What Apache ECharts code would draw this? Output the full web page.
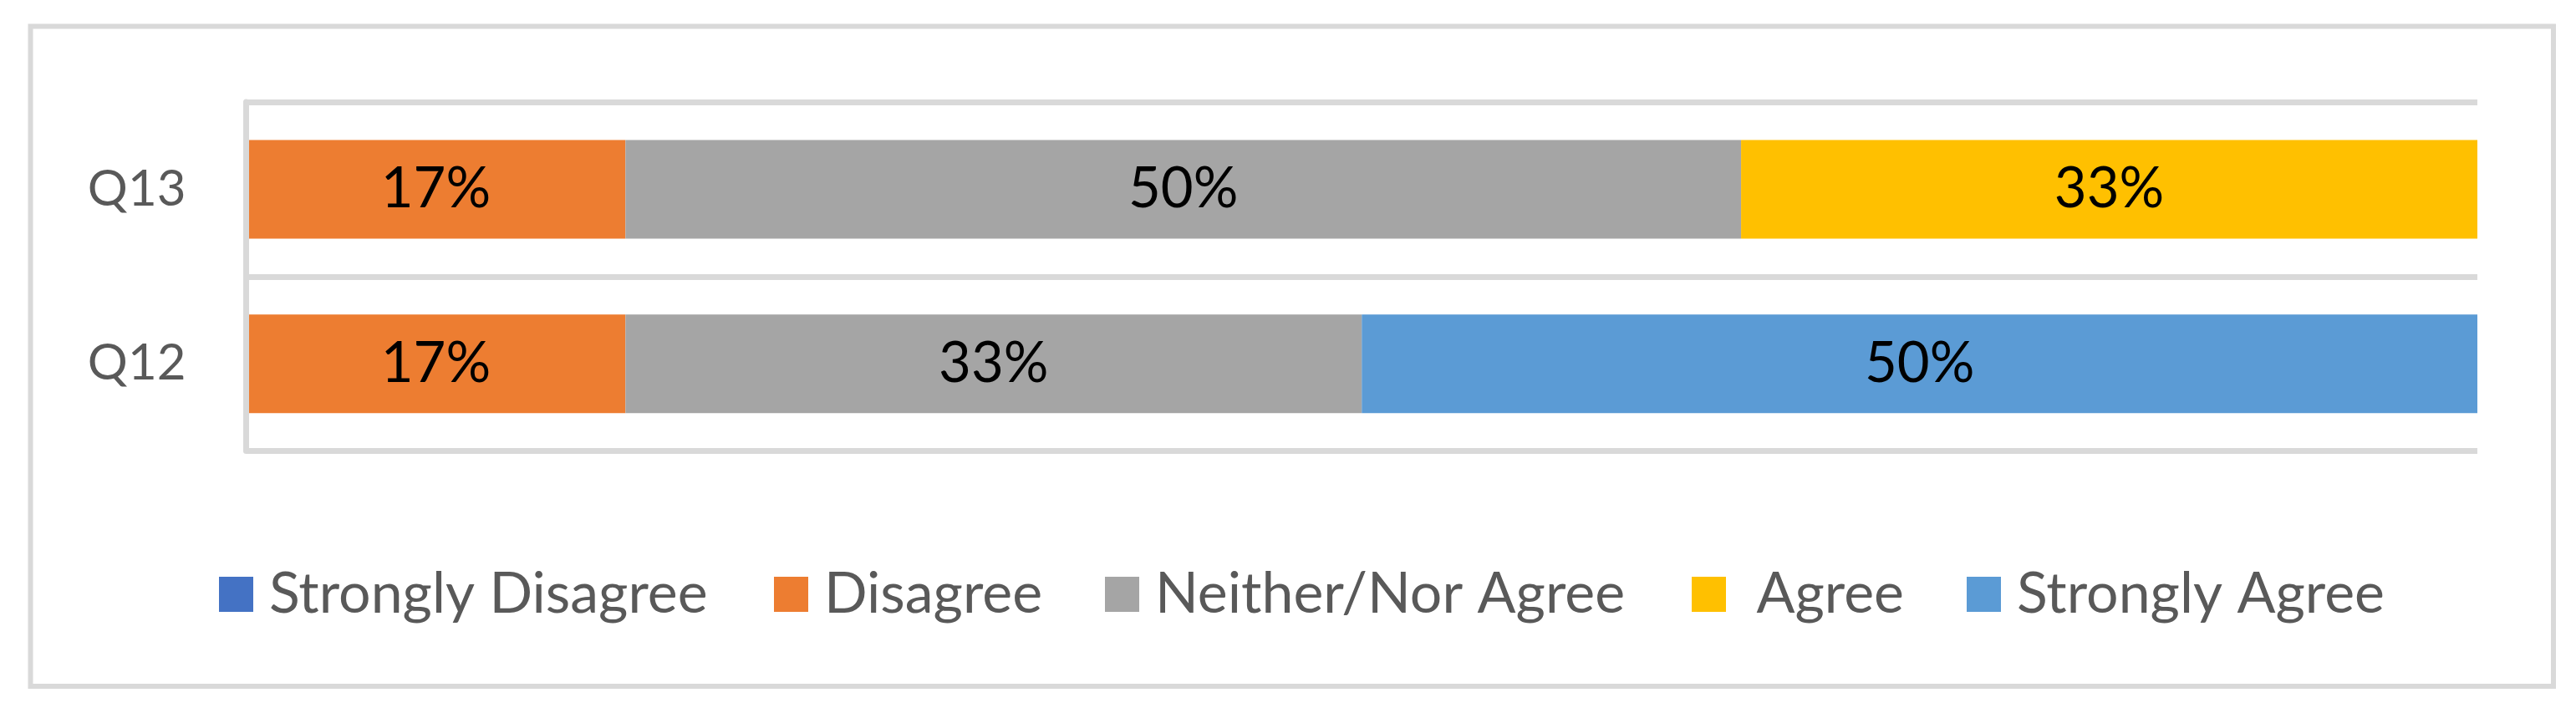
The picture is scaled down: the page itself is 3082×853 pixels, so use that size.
<!DOCTYPE html>
<html>
<head>
<meta charset="utf-8">
<script src="https://cdn.jsdelivr.net/npm/echarts@6/dist/echarts.min.js"></script>
<style>
html,body{margin:0;padding:0;background:#fff;}
#chart{width:3082px;height:853px;}
</style>
</head>
<body>
<div id="chart"></div>
<script>
// Categories (bottom to top)
const categories = ['Q12', 'Q13'];
// Series names
const seriesNames = ['Strongly Disagree', 'Disagree', 'Neither/Nor Agree', ' Agree', 'Strongly Agree'];
// Values (%) per series, ordered as categories
const stronglyDisagree = [null, null];
const disagree = [17, 17];
const neither = [33, 50];
const agree = [null, 33];
const stronglyAgree = [50, null];

const colors = ['#4472C4', '#ED7D31', '#A5A5A5', '#FFC000', '#5B9BD5'];
const FONT = 'Lato';
const seriesData = [stronglyDisagree, disagree, neither, agree, stronglyAgree];
const legendLefts = [262, 926, 1322, 2024, 2353];

const chart = echarts.init(document.getElementById('chart'), null, {renderer: 'canvas'});

const option = {
  backgroundColor: '#ffffff',
  animation: false,
  color: colors,
  graphic: [{
    type: 'rect',
    shape: {x: 36.5, y: 31.5, width: 3018.5, height: 789.5},
    style: {fill: 'none', stroke: '#d9d9d9', lineWidth: 6},
    silent: true, z: 0
  }],
  legend: seriesNames.map((n, i) => ({
    data: [n],
    left: legendLefts[i],
    top: 677,
    itemWidth: 41,
    itemHeight: 42,
    icon: 'rect',
    padding: 0,
    textStyle: {color: '#595959', fontSize: 68, lineHeight: 42, fontFamily: FONT, padding: [0, 0, 0, 14]}
  })),
  grid: {left: 294.5, right: 118, top: 122, bottom: 313.5, containLabel: false},
  xAxis: {type: 'value', min: 0, max: 100, show: false},
  yAxis: {
    type: 'category',
    data: categories,
    z: 5,
    axisLine: {show: true, lineStyle: {color: '#d9d9d9', width: 7}},
    axisTick: {show: false},
    splitLine: {show: true, lineStyle: {color: '#d9d9d9', width: 7}},
    axisLabel: {color: '#595959', fontSize: 60, fontFamily: FONT, margin: 72}
  },
  series: seriesNames.map((n, i) => ({
    name: n,
    type: 'bar',
    stack: 'total',
    barWidth: 118,
    data: seriesData[i],
    itemStyle: {color: colors[i]},
    label: {
      show: true,
      position: 'inside',
      color: '#000000',
      fontSize: 67,
      fontFamily: FONT,
      formatter: p => (p.value ? p.value + '%' : '')
    }
  }))
};
chart.setOption(option);
</script>
</body>
</html>
